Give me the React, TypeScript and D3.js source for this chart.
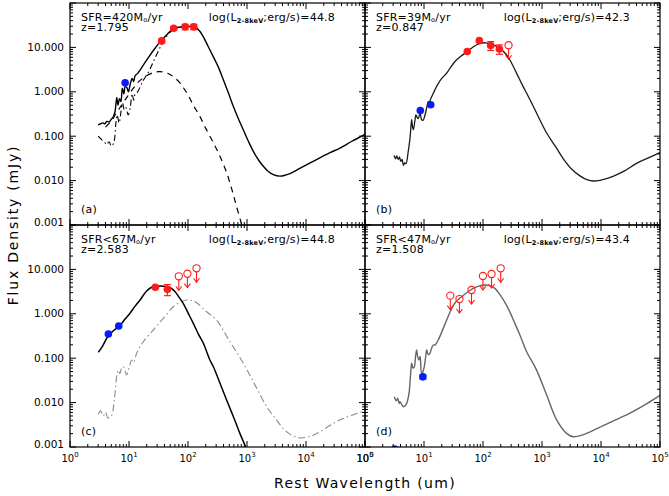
import React from "react";
import * as d3 from "d3";

type Pt = [number, number];
type ErrPt = [number, number, number];

// Rest wavelength (um) and flux density (mJy) for every SED component.

// (a) SFR=420, z=1.795
const sedATotal: Pt[] = [
  [3.0, 0.18], [3.3, 0.19], [3.6, 0.2], [3.9, 0.19], [4.2, 0.215], [4.6, 0.21], [5.0, 0.24],
  [5.4, 0.27], [5.8, 0.36], [6.2, 0.75], [6.5, 0.5], [6.9, 0.7], [7.3, 0.6], [7.7, 1.2],
  [8.2, 0.9], [8.6, 1.3], [9.2, 1.25], [9.8, 1.0], [10.5, 1.5], [11.3, 2.0], [12.0, 1.7],
  [12.7, 2.3], [14.0, 2.6], [17.5, 4.0], [22, 6.3], [28, 9.8], [34, 13.5], [45, 20],
  [56, 26], [70, 28.5], [89, 29.5], [110, 29.5], [131, 28.5], [155, 24], [181, 17.5],
  [220, 10.5], [268, 6.2], [330, 3.5], [397, 1.86], [490, 0.9], [586, 0.47], [720, 0.24],
  [864, 0.14], [1050, 0.078], [1280, 0.0455], [1600, 0.028], [1890, 0.021], [2300, 0.016],
  [2790, 0.0136], [3630, 0.0126], [5350, 0.0144], [8000, 0.019], [15100, 0.0297],
  [25000, 0.042], [37700, 0.054], [60000, 0.077], [100000, 0.11],
];
const sedAAgn: Pt[] = [
  [4.0, 0.16], [5.0, 0.22], [6.0, 0.32], [7.5, 0.5], [9.0, 0.72], [11, 1.05], [14, 1.6],
  [18.7, 2.2], [25.8, 2.7], [32, 2.85], [38, 2.8], [47, 2.55], [56, 2.2], [70, 1.7],
  [83, 1.25], [100, 0.85], [123, 0.5], [159, 0.28], [200, 0.15], [268, 0.072], [349, 0.035],
  [453, 0.015], [560, 0.006], [665, 0.0026], [800, 0.0011], [900, 0.0006],
];
const sedAStarburst: Pt[] = [
  [3.0, 0.1], [3.4, 0.085], [3.8, 0.075], [4.2, 0.065], [4.6, 0.075], [5.0, 0.06], [5.5, 0.07],
  [6.0, 0.2], [6.3, 0.3], [6.8, 0.2], [7.3, 0.35], [7.8, 0.55], [8.3, 0.4], [8.8, 0.45],
  [9.7, 0.3], [10.5, 0.45], [11.3, 0.9], [12.0, 0.65], [12.7, 0.9], [14, 1.0], [17, 1.7],
  [22, 3.0], [28, 6], [35, 11], [45, 19], [56, 25], [70, 28], [89, 29],
];
const photABlue: ErrPt[] = [[8.6, 1.6, 0]];
const photARed: ErrPt[] = [[35.8, 14, 1.5], [57.2, 27, 2], [89.4, 29, 4], [125.2, 29, 4]];
const limitsA: Pt[] = [];

// (b) SFR=39, z=0.847
const sedBTotal: Pt[] = [
  [3.1, 0.037], [3.3, 0.031], [3.45, 0.036], [3.67, 0.03], [3.85, 0.034], [4.03, 0.027],
  [4.25, 0.03], [4.47, 0.022], [4.7, 0.025], [4.95, 0.024], [5.4, 0.045], [5.79, 0.09],
  [6.0, 0.16], [6.18, 0.235], [6.4, 0.16], [6.6, 0.14], [7.0, 0.22], [7.3, 0.3], [7.7, 0.26],
  [8.0, 0.25], [8.6, 0.33], [9.1, 0.235], [9.7, 0.23], [10.4, 0.3], [11.3, 0.48], [11.8, 0.6],
  [12.3, 0.58], [13, 0.7], [14.4, 0.93], [16, 1.25], [17.5, 1.55], [20, 2.0], [24.2, 2.63],
  [28, 3.5], [33.5, 4.8], [42, 6.3], [54.3, 8.1], [70, 10.5], [89, 12.3], [110, 12.7],
  [131, 12.1], [160, 11], [194, 9.4], [240, 7.3], [286, 5.2], [372, 2.6], [450, 1.55],
  [627, 0.66], [850, 0.29], [1200, 0.118], [1700, 0.058], [2300, 0.031], [3200, 0.018],
  [4400, 0.0128], [5800, 0.0105], [7400, 0.0098], [10000, 0.0103], [16000, 0.0125],
  [25000, 0.0165], [40000, 0.0245], [65000, 0.033], [100000, 0.043],
];
const photBBlue: ErrPt[] = [[8.66, 0.38, 0], [13.0, 0.51, 0]];
const photBRed: ErrPt[] = [[54.1, 8.1, 0], [86.6, 14.2, 0], [135, 11, 2.5], [189.5, 9.2, 2.2]];
const limitsB: Pt[] = [[271, 11.2]];

// (c) SFR<67, z=2.583
const sedCTotal: Pt[] = [
  [3.02, 0.136], [3.5, 0.18], [4.46, 0.32], [5.5, 0.42], [7.0, 0.54], [8.5, 0.75], [10.4, 1.03],
  [12.5, 1.45], [15.4, 2.05], [19.9, 3.27], [24.2, 3.96], [29.5, 4.17], [37, 4.2], [46.4, 4.08],
  [53, 3.7], [60, 3.16], [70, 2.4], [83, 1.72], [100, 1.05], [123, 0.61], [150, 0.35],
  [182, 0.217], [235, 0.091], [268, 0.065], [350, 0.027], [451, 0.0115], [588, 0.0048],
  [760, 0.002], [950, 0.001], [1050, 0.0007],
];
const sedCHost: Pt[] = [
  [3.02, 0.0055], [3.3, 0.0065], [3.67, 0.005], [4.0, 0.006], [4.4, 0.0045], [4.76, 0.0048],
  [5.2, 0.0055], [5.5, 0.009], [5.8, 0.016], [6.2, 0.04], [6.6, 0.054], [7.0, 0.045],
  [7.5, 0.06], [8.0, 0.064], [8.6, 0.05], [9.1, 0.042], [10, 0.06], [11.1, 0.091], [12, 0.08],
  [13.5, 0.129], [17.5, 0.235], [25.8, 0.43], [38.1, 0.79], [56.4, 1.44], [75, 1.85],
  [95, 2.05], [115, 2.0], [140, 1.78], [207, 1.11], [305, 0.72], [500, 0.25], [866, 0.077],
  [1400, 0.0235], [2150, 0.0081], [3000, 0.0045], [4100, 0.0026], [5500, 0.0019],
  [7900, 0.0016], [11000, 0.0017], [15000, 0.002], [25000, 0.003], [37700, 0.0041],
  [60000, 0.0052], [100000, 0.0066],
];
const photCBlue: ErrPt[] = [[4.47, 0.35, 0], [6.7, 0.53, 0]];
const photCRed: ErrPt[] = [[27.9, 3.96, 0], [44.7, 3.56, 1.0]];
const limitsC: Pt[] = [[69.8, 7.0], [97.7, 8.0], [139.5, 10.6]];

// (d) SFR<47, z=1.508
const sedDTotal: Pt[] = [
  [3.14, 0.0136], [3.4, 0.011], [3.58, 0.0125], [3.8, 0.0095], [3.92, 0.0105], [4.2, 0.009],
  [4.46, 0.0081], [4.8, 0.0085], [5.08, 0.0096], [5.57, 0.0162], [5.9, 0.04], [6.18, 0.077],
  [6.5, 0.06], [6.85, 0.064], [7.2, 0.11], [7.5, 0.153], [7.8, 0.11], [8.2, 0.091], [8.6, 0.11],
  [9.1, 0.0457], [9.6, 0.05], [10.1, 0.064], [10.6, 0.1], [11.1, 0.153], [11.8, 0.12],
  [12.6, 0.129], [13.5, 0.17], [14.4, 0.198], [15.5, 0.2], [17.5, 0.26], [21.2, 0.47],
  [25, 0.8], [29.5, 1.33], [35, 1.9], [43.5, 2.43], [55, 3.1], [68.5, 3.75], [85, 4.2],
  [108, 4.45], [130, 4.3], [159, 3.74], [190, 2.8], [235, 1.8], [290, 1.05], [348, 0.6],
  [424, 0.33], [550, 0.14], [809, 0.054], [1200, 0.0148], [1770, 0.0041], [2640, 0.002],
  [3400, 0.0017], [5000, 0.0019], [8500, 0.0026], [15000, 0.0037], [31000, 0.0058],
  [60000, 0.0095], [100000, 0.0145],
];
const photDBlue: ErrPt[] = [[3.19, 0.0009, 0], [9.57, 0.038, 0.004]];
const photDRed: ErrPt[] = [];
const limitsD: Pt[] = [[27.9, 2.56], [39.9, 2.15], [63.8, 3.44], [99.7, 7.1], [139.6, 7.87], [199.4, 10.6]];

// Panel annotations
const panelTags = ["(a)", "(b)", "(c)", "(d)"];
const sfrText = ["SFR=420", "SFR=39", "SFR<67", "SFR<47"];
const redshiftText = ["z=1.795", "z=0.847", "z=2.583", "z=1.508"];
const lxText = ["44.8", "42.3", "44.8", "43.4"];

// Axis tick labels
const xTickExponents = ["0", "1", "2", "3", "4", "5"];
const yTickLabels = ["10.000", "1.000", "0.100", "0.010", "0.001"];
const yTickValues = [10, 1, 0.1, 0.01, 0.001];

const X_DOMAIN: [number, number] = [1, 1e5];
const Y_DOMAIN: [number, number] = [1e-3, 1e2];

const LEFT = 70;
const TOP = 3;
const PW = 295;
const PH = 222;

type Curve = { data: Pt[]; color: string; width: number; dash?: string };
type PanelSpec = {
  curves: Curve[];
  blue: ErrPt[];
  red: ErrPt[];
  limits: Pt[];
};

const panels: PanelSpec[] = [
  {
    curves: [
      { data: sedAStarburst, color: "#000", width: 1.1, dash: "6,3,1.5,3" },
      { data: sedAAgn, color: "#000", width: 1.2, dash: "6,5" },
      { data: sedATotal, color: "#000", width: 1.4 },
    ],
    blue: photABlue, red: photARed, limits: limitsA,
  },
  {
    curves: [{ data: sedBTotal, color: "#1a1a1a", width: 1.3 }],
    blue: photBBlue, red: photBRed, limits: limitsB,
  },
  {
    curves: [
      { data: sedCHost, color: "#8a8a8a", width: 1.1, dash: "7,3,1.5,3" },
      { data: sedCTotal, color: "#000", width: 1.5 },
    ],
    blue: photCBlue, red: photCRed, limits: limitsC,
  },
  {
    curves: [{ data: sedDTotal, color: "#666", width: 1.4 }],
    blue: photDBlue, red: photDRed, limits: limitsD,
  },
];

const RED = "#ff1a1a";
const BLUE = "#0a1aff";

function makeScales(col: number, row: number) {
  const x0 = LEFT + col * PW;
  const y0 = TOP + row * PH;
  const x = d3.scaleLog().domain(X_DOMAIN).range([x0, x0 + PW]);
  const y = d3.scaleLog().domain(Y_DOMAIN).range([y0 + PH, y0]);
  return { x, y, x0, y0 };
}

function Panel({ spec, idx }: { spec: PanelSpec; idx: number }) {
  const col = idx % 2;
  const row = Math.floor(idx / 2);
  const { x, y, x0, y0 } = makeScales(col, row);
  const x1 = x0 + PW;
  const y1 = y0 + PH;
  const line = d3
    .line<Pt>()
    .x((d) => x(d[0]))
    .y((d) => y(d[1]))
    .curve(d3.curveCatmullRom.alpha(0.5));

  const xMajor = d3.range(0, 6).map((e) => Math.pow(10, e));
  const xMinor: number[] = [];
  for (let e = 0; e < 5; e++) for (let k = 2; k <= 9; k++) xMinor.push(k * Math.pow(10, e));
  const yMajor = d3.range(-3, 3).map((e) => Math.pow(10, e));
  const yMinor: number[] = [];
  for (let e = -3; e < 2; e++) for (let k = 2; k <= 9; k++) yMinor.push(k * Math.pow(10, e));

  const ticks: React.ReactNode[] = [];
  const tk = (key: string, a: number, b: number, c: number, d: number) =>
    ticks.push(<line key={key} x1={a} y1={b} x2={c} y2={d} stroke="#000" strokeWidth={1} />);
  xMajor.forEach((v, i) => {
    const px = x(v);
    tk(`xb${i}`, px, y1, px, y1 - 6);
    tk(`xt${i}`, px, y0, px, y0 + 6);
  });
  xMinor.forEach((v, i) => {
    const px = x(v);
    tk(`xbm${i}`, px, y1, px, y1 - 3);
    tk(`xtm${i}`, px, y0, px, y0 + 3);
  });
  yMajor.forEach((v, i) => {
    const py = y(v);
    tk(`yl${i}`, x0, py, x0 + 6, py);
    tk(`yr${i}`, x1, py, x1 - 6, py);
  });
  yMinor.forEach((v, i) => {
    const py = y(v);
    tk(`ylm${i}`, x0, py, x0 + 3, py);
    tk(`yrm${i}`, x1, py, x1 - 3, py);
  });

  const clipId = `clip-${idx}`;
  const point = (p: ErrPt, color: string, key: string) => {
    const cx = x(p[0]);
    const cy = y(p[1]);
    return (
      <g key={key}>
        {p[2] > 0 && (
          <g stroke={color} strokeWidth={1.2}>
            <line x1={cx} x2={cx} y1={y(p[1] + p[2])} y2={y(Math.max(p[1] - p[2], 1e-6))} />
            <line x1={cx - 3.5} x2={cx + 3.5} y1={y(p[1] + p[2])} y2={y(p[1] + p[2])} />
            <line x1={cx - 3.5} x2={cx + 3.5} y1={y(p[1] - p[2])} y2={y(p[1] - p[2])} />
          </g>
        )}
        <circle cx={cx} cy={cy} r={3.8} fill={color} />
      </g>
    );
  };

  return (
    <g>
      <defs>
        <clipPath id={clipId}>
          <rect x={x0} y={y0} width={PW} height={PH} />
        </clipPath>
      </defs>
      <g clipPath={`url(#${clipId})`}>
        {spec.curves.map((c, i) => (
          <path
            key={i}
            d={line(c.data) || ""}
            fill="none"
            stroke={c.color}
            strokeWidth={c.width}
            strokeDasharray={c.dash}
            strokeLinejoin="round"
          />
        ))}
        {spec.blue.map((p, i) => point(p, BLUE, `b${i}`))}
        {spec.red.map((p, i) => point(p, RED, `r${i}`))}
        {spec.limits.map((p, i) => {
          const cx = x(p[0]);
          const cy = y(p[1]);
          return (
            <g key={`u${i}`} stroke={RED} strokeWidth={1.1} fill="none">
              <circle cx={cx} cy={cy} r={3.6} />
              <line x1={cx} x2={cx} y1={cy + 3.6} y2={cy + 14} />
              <polyline points={`${cx - 3},${cy + 10} ${cx},${cy + 14} ${cx + 3},${cy + 10}`} />
            </g>
          );
        })}
      </g>
      <rect x={x0} y={y0} width={PW} height={PH} fill="none" stroke="#000" strokeWidth={1.2} />
      {ticks}
      <g fontSize={11} fill="#000" letterSpacing={0.2}>
        <text x={x0 + 11} y={y0 + 17.5}>
          {sfrText[idx]}M
          <tspan dy={1.8} fontSize={6.5}>o</tspan>
          <tspan dy={-1.8}>/yr</tspan>
        </text>
        <text x={x0 + 11} y={y0 + 27.5}>{redshiftText[idx]}</text>
        <text x={x1 - 30} y={y0 + 17.5} textAnchor="end">
          log(L
          <tspan dy={2.5} fontSize={6.5} fontWeight="bold">2-8keV</tspan>
          <tspan dy={-2.5}>;erg/s)={lxText[idx]}</tspan>
        </text>
        <text x={x0 + 11} y={y1 - 12}>{panelTags[idx]}</text>
      </g>
    </g>
  );
}

export default function App() {
  const bottom = makeScales(0, 1);
  return (
    <svg
      width={669}
      height={496}
      style={{ position: "absolute", left: 0, top: 0, background: "#fff" }}
      fontFamily="'DejaVu Sans', sans-serif"
    >
      <rect width={669} height={496} fill="#fff" />
      {panels.map((p, i) => (
        <Panel key={i} spec={p} idx={i} />
      ))}
      {[0, 1].map((col) => {
        const { x } = makeScales(col, 1);
        return xTickExponents.map((e, i) => (
          <text
            key={`xl${col}-${i}`}
            x={x(Math.pow(10, +e))}
            y={462}
            fontSize={10}
            textAnchor="middle"
          >
            10<tspan dy={-5} fontSize={7}>{e}</tspan>
          </text>
        ));
      })}
      {[0, 1].map((row) => {
        const { y } = makeScales(0, row);
        return yTickLabels.map((t, i) => (
          <text
            key={`yl${row}-${i}`}
            x={64}
            y={y(yTickValues[i]) - (yTickValues[i] === 0.001 ? 3 : 0)}
            dy="0.35em"
            fontSize={10.5}
            textAnchor="end"
          >
            {t}
          </text>
        ));
      })}
      <text
        x={LEFT + PW}
        y={488}
        fontSize={14}
        letterSpacing={1.3}
        textAnchor="middle"
      >
        Rest Wavelength (um)
      </text>
      <text
        transform={`translate(13,${(TOP + bottom.y0 + PH) / 2}) rotate(-90)`}
        fontSize={14}
        letterSpacing={1.8}
        textAnchor="middle"
        dy="0.35em"
      >
        Flux Density (mJy)
      </text>
    </svg>
  );
}
